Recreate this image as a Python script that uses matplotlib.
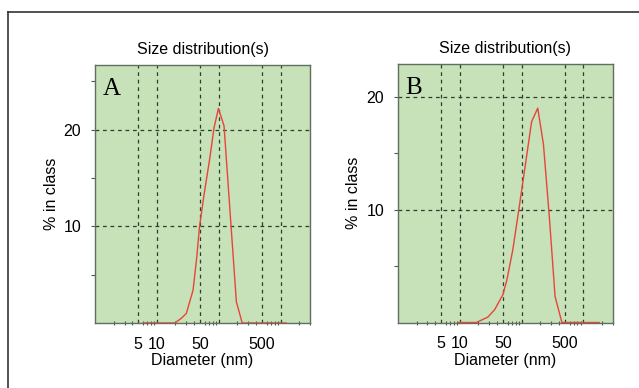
import matplotlib
matplotlib.use("Agg")
import matplotlib.pyplot as plt
from matplotlib.lines import Line2D
from matplotlib.ticker import FixedLocator, NullFormatter, LogLocator

# sample A
diam_a = [6, 10, 15, 19.5, 25, 30, 38.5, 44, 49, 58, 71.6, 84, 99, 122, 150, 193, 240, 400, 800, 1230]
pct_a = [0, 0, 0, 0, 0.5, 1.0, 3.4, 6.7, 10.0, 13.3, 17.0, 20.2, 22.2, 20.4, 12.2, 2.2, 0, 0, 0, 0]

# sample B
diam_b = [9.4, 18.5, 28.4, 36.5, 49.7, 57.5, 72, 90, 115, 145, 182, 225, 280, 347, 448, 800, 1790]
pct_b = [0, 0, 0.48, 1.13, 2.46, 3.73, 6.45, 10.0, 14.0, 17.8, 19.0, 15.8, 9.4, 2.3, 0, 0, 0]

grid_x = [5, 10, 50, 100, 500, 1000]
xtick_labels = ['5', '10', '50', '', '500', '']
title = "Size distribution(s)"

plt.rcParams['font.family'] = ['Liberation Sans', 'DejaVu Sans']
fs = 11.5

fig = plt.figure(figsize=(6.39, 3.88), dpi=100)

# outer frame: only top and left edge visible
fig.add_artist(Line2D([0.0125, 0.0125], [0.0, 0.970], color='#333333', lw=1.2))
fig.add_artist(Line2D([0.0125, 1.0], [0.970, 0.970], color='#333333', lw=1.2))

bg = '#c7e1b8'
edge = '#5f705f'


def panel(rect, x, y, ytop, letter):
    ax = fig.add_axes(rect)
    ax.set_facecolor(bg)
    ax.plot(x, y, color='#e8443a', lw=1.0, zorder=3)
    ax.set_xscale('log')
    ax.set_xlim(1, 3000)
    ax.set_ylim(0, ytop)
    ax.set_xticks(grid_x)
    ax.set_xticklabels(xtick_labels)
    ax.xaxis.set_minor_locator(LogLocator(base=10, subs=range(2, 10)))
    ax.xaxis.set_minor_formatter(NullFormatter())
    ax.set_yticks([10, 20])
    ax.yaxis.set_minor_locator(FixedLocator([5, 15, 25]))
    ax.tick_params(axis='x', which='major', length=0, pad=10, labelsize=fs)
    ax.tick_params(axis='x', which='minor', length=3, direction='inout', color='#555555', width=0.8)
    ax.tick_params(axis='y', which='both', length=3, direction='out', color='#555555', width=0.8,
                   labelsize=fs, pad=7)
    ax.grid(True, which='major', axis='both', color='#2e3d2e', ls=(0, (3, 3)), lw=0.9)
    for s in ax.spines.values():
        s.set_color(edge)
        s.set_linewidth(1.0)
    ax.set_title(title, fontsize=fs, pad=8)
    ax.set_xlabel("Diameter (nm)", fontsize=fs, labelpad=1)
    ax.set_ylabel("% in class", fontsize=fs, labelpad=3.5)
    ax.text(0.035, 0.95, letter, transform=ax.transAxes, family='Liberation Serif',
            fontsize=18, va='top', ha='left')
    return ax


panel([0.1487, 0.1675, 0.3365, 0.665], diam_a, pct_a, 26.7, 'A')
panel([0.6228, 0.1688, 0.3365, 0.666], diam_b, pct_b, 22.9, 'B')

fig.savefig("out.png", dpi=100)
